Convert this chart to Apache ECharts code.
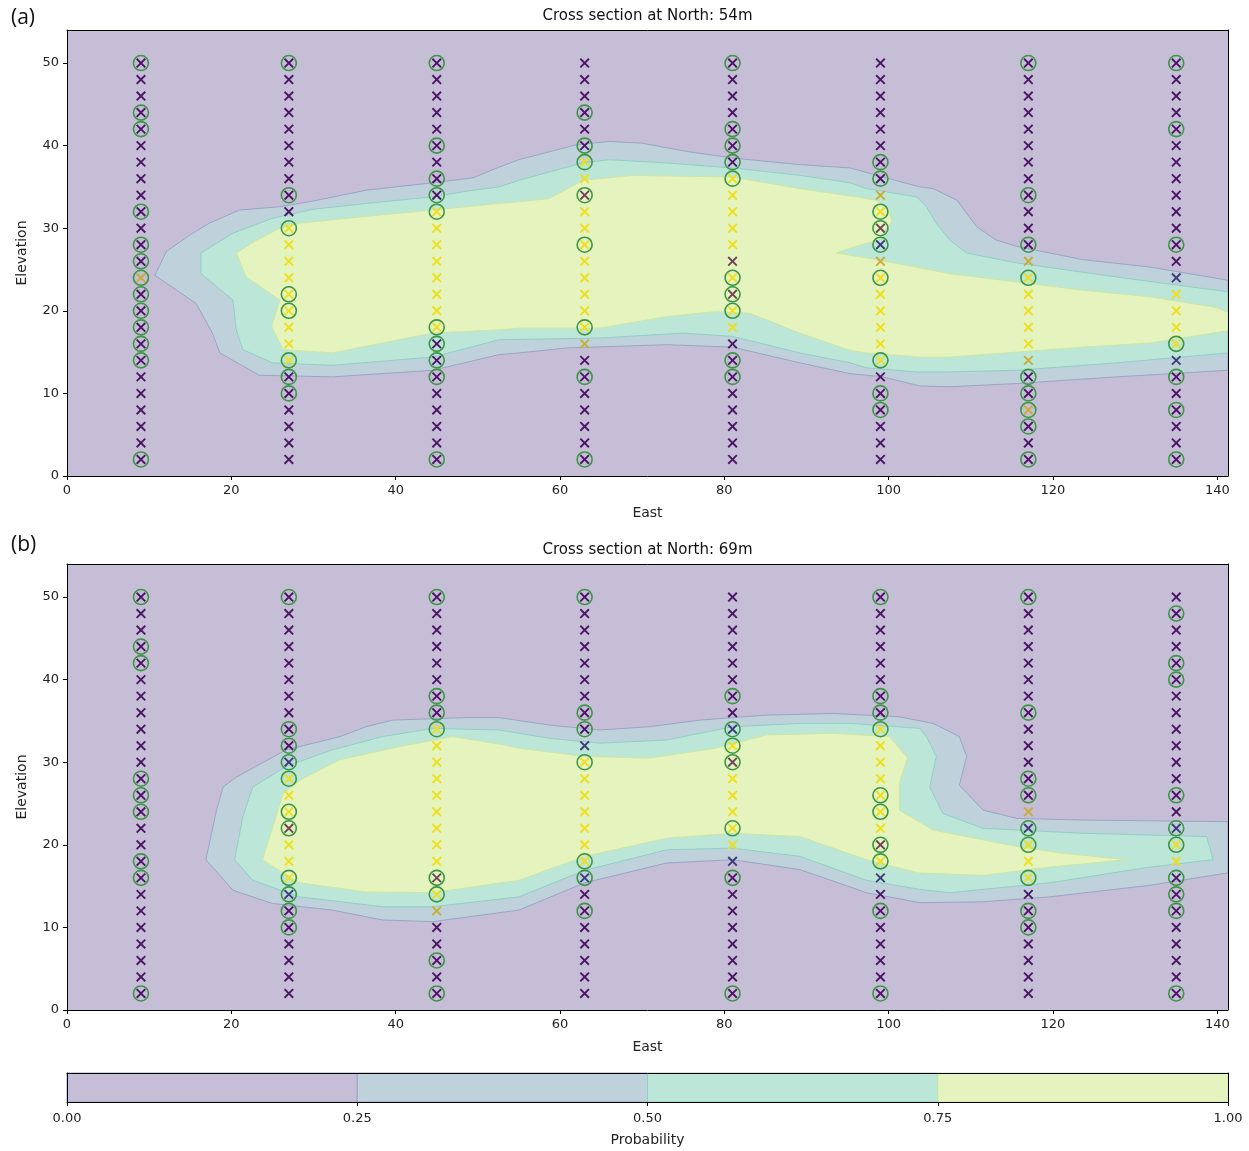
<!DOCTYPE html>
<html><head><meta charset="utf-8">
<script src="https://cdn.jsdelivr.net/npm/echarts@6/dist/echarts.min.js"></script>
<style>html,body{margin:0;padding:0;background:#fff}#c{width:1249px;height:1151px}</style>
</head><body><div id="c"></div>
<script>
// ---------------- DATA ----------------
const EAST_COLS = [9, 27, 45, 63, 81, 99, 117, 135];
const ELEVATIONS = [2,4,6,8,10,12,14,16,18,20,22,24,26,28,30,32,34,36,38,40,42,44,46,48,50];
const X_TICKS = [0, 20, 40, 60, 80, 100, 120, 140];
const Y_TICKS = [0, 10, 20, 30, 40, 50];
const CB_TICKS = [0, 0.25, 0.5, 0.75, 1];
const PROB_LEVELS = [0, 0.25, 0.5, 0.75, 1];
const TITLES = ['Cross section at North: 54m', 'Cross section at North: 69m'];
const PANEL_LABELS = ['(a)', '(b)'];

// marker classes per column, bottom (2 m) to top (50 m): p=purple, y=yellow, m=mixed, d=dark blue, o=olive/orange
const CLASSES_A = [
  'ppppppppppp' + 'o' + 'ppppppppppppp',
  'pppppp' + 'yyyyyyyyy' + 'pppppppppp',
  'pppppppp' + 'yyyyyyyy' + 'ppppppppp',
  'ppppppp' + 'o' + 'yyyyyyyy' + 'm' + 'yy' + 'pppppp',
  'pppppppp' + 'yy' + 'm' + 'y' + 'm' + 'yyyyy' + 'ppppppp',
  'pppppp' + 'yyyyyy' + 'o' + 'd' + 'm' + 'y' + 'o' + 'pppppppp',
  'ppp' + 'o' + 'pp' + 'o' + 'yyyyy' + 'o' + 'pppppppppppp',
  'pppppp' + 'd' + 'yyyy' + 'd' + 'ppppppppppppp'
];
const CLASSES_B = [
  'ppppppppppppppppppppppppp',
  'pppppp' + 'd' + 'yyy' + 'm' + 'yyy' + 'd' + 'pppppppppp',
  'ppppp' + 'o' + 'y' + 'm' + 'yyyyyyyyy' + 'pppppppp',
  'ppppppp' + 'd' + 'yyyyyyy' + 'd' + 'ppppppppp',
  'pppppppp' + 'd' + 'yyyyy' + 'm' + 'y' + 'd' + 'pppppppp',
  'ppppppp' + 'd' + 'y' + 'm' + 'yyyyyyy' + 'pppppppp',
  'ppppppp' + 'yyy' + 'd' + 'o' + 'ppppppppppppp',
  'pppppppp' + 'yy' + 'd' + 'pppppppppppppp'
];
// circled elevations per column
const CIRCLES_A = [
  [50,44,42,32,28,26,24,22,20,18,16,14,2],
  [50,34,30,22,20,14,12,10],
  [50,40,36,34,32,18,16,14,12,2],
  [44,40,38,34,28,18,12,2],
  [50,42,40,38,36,24,22,20,14,12],
  [38,36,32,30,28,24,14,10,8],
  [50,34,28,24,12,10,8,6,2],
  [50,42,28,16,12,8,2]
];
const CIRCLES_B = [
  [50,44,42,28,26,24,18,16,2],
  [50,34,32,30,28,24,22,16,14,12,10],
  [50,38,36,34,16,14,6,2],
  [50,36,34,30,18,16,12],
  [38,34,32,30,22,16,2],
  [50,38,36,34,26,24,20,18,12,2],
  [50,36,28,26,22,20,16,12,10],
  [48,42,40,26,22,20,16,14,12,2]
];

// contour outlines [East, Elevation] for probability >= 0.25, >= 0.5, >= 0.75
const CONTOUR_A_025 = [[10.7,24.3],[12.1,27.2],[15.0,29.2],[17.3,30.6],[21,32.2],[25.9,32.6],[30,33.3],[36.4,34.6],[44.5,35.5],[49.4,36.1],[52.6,37.4],[55,38.3],[62,40.1],[66,40.5],[70,40.3],[75.4,39.3],[81,38.5],[89.2,37.7],[95.3,37.3],[99.3,36.2],[103.8,35.0],[105.4,34.8],[108.3,33.4],[110.7,30.2],[113,28.6],[115.6,27.8],[123.6,26.2],[131.8,25.3],[141.3,23.7],
  [141.3,12.8],[127.7,12.0],[115.6,11.2],[107.4,10.8],[103.8,10.9],[99.3,12.0],[95.3,12.4],[89.2,13.7],[81,15.6],[73,15.9],[60.8,15.5],[55,14.9],[52.6,14.7],[44.5,12.8],[32.3,12.0],[23.4,12.2],[18.6,14.9],[17.7,17.3],[15.7,20.9]];
const CONTOUR_A_050 = [[16.3,27.0],[20.2,29.4],[25,31.2],[30,32.3],[36.4,33.0],[44.5,33.8],[49.4,34.6],[52.6,35.0],[55,35.8],[62.7,37.9],[66,38.3],[73,37.9],[81,37.3],[89.2,36.4],[95.3,35.5],[97.3,34.8],[103.4,33.8],[104.6,32.6],[105.8,30.6],[107.4,28.6],[109.5,27.0],[115.6,25.8],[127.7,24.1],[141.3,22.3],
  [141.3,14.9],[127.7,13.7],[115.6,12.8],[107.4,12.6],[103.4,12.6],[97.3,13.1],[95.3,13.7],[89.2,14.9],[81,16.9],[75,17.3],[64.8,16.7],[52.6,16.5],[44.5,14.4],[32.3,13.4],[25,13.7],[21.4,15.3],[20.6,17.7],[20.2,21.3],[16.3,24.5]];
const CONTOUR_A_075 = [[20.6,27.0],[23,28.5],[25.9,30.0],[28.3,30.6],[36,31.4],[44.5,32.2],[52.6,33.0],[55,33.2],[58.7,33.6],[62.8,35.8],[68.9,36.4],[81,36.2],[89.2,34.8],[95.3,33.9],[98.5,33.4],[100.0,32.3],[100.4,30.8],[99.3,29.4],[98.9,28.6],[96,27.8],[93.6,27.0],[98,26.3],[103.8,25.2],[107.4,24.5],[115.6,23.5],[123.6,22.5],[131.8,21.7],[139.9,20.4],[141.3,19.8],
  [141.3,17.6],[131.8,16.1],[123.6,15.6],[115.6,15.0],[107.4,14.4],[103.8,14.4],[97.3,14.9],[95.3,15.2],[89.2,17.3],[83.1,19.7],[79,19.9],[73,19.3],[64.8,17.9],[55,17.9],[52.6,17.7],[44.5,17.3],[38.4,16.1],[32.3,14.9],[26.3,15.3],[24.9,18.1],[25.9,21.3],[21.8,24.1]];

const CONTOUR_B_025 = [[16.9,18.2],[18.2,24.2],[19.0,27.0],[20.6,28.2],[26.7,31.5],[33.2,33.1],[36.4,34.3],[39.6,35.1],[48.6,35.4],[52.6,35.4],[58.7,34.5],[64.8,33.9],[70.9,34.3],[77,35.1],[85.1,35.7],[93.2,35.9],[101.3,35.5],[105.4,34.7],[108.6,33.1],[109.5,30.7],[108.6,27.2],[111.5,24.2],[115.6,23.2],[123.6,23.0],[141.3,22.8],
  [141.3,16.6],[131.8,15.1],[119.6,13.7],[111.5,13.1],[103.8,13.0],[97.3,14.2],[95.3,14.9],[89.2,17.0],[81,18.2],[73,17.8],[63,15.4],[55,12.1],[44.5,10.7],[38.4,10.9],[32.3,12.1],[25,12.9],[20.2,14.5]];
const CONTOUR_B_050 = [[20.4,18.2],[21.4,23.4],[22.6,27.0],[26.7,29.5],[32.3,31.5],[38.4,33.1],[44.5,34.1],[52.6,33.9],[58.7,32.9],[64.8,32.3],[73,32.7],[81,34.3],[89.2,34.7],[95.3,34.7],[103.8,34.1],[104.6,33.1],[105.8,30.7],[105,27.0],[106.6,23.8],[111.5,22.0],[123.6,21.4],[138.7,21.0],[139.5,18.2],
  [131.8,17.3],[119.6,15.4],[107.4,14.2],[103.8,14.6],[97.3,15.7],[89.2,18.6],[81,19.6],[73,19.4],[63,16.9],[55,13.7],[44.5,12.5],[38.4,12.5],[28.3,13.7],[22.6,15.7]];
const CONTOUR_B_075 = [[23.8,18.2],[26.3,26.2],[28.3,27.8],[33.2,30.3],[40.5,31.9],[46.9,33.1],[52.6,32.2],[55,31.7],[63,30.7],[70.9,30.5],[79,31.7],[85.1,33.3],[93.2,33.5],[100.1,33.1],[102.3,30.5],[101.3,27.5],[101.3,24.2],[105.4,21.8],[115.6,19.8],[121,19.0],[129,18.2],
  [119.6,17.3],[111.5,16.3],[103.6,16.6],[97.3,18.2],[89.2,21.0],[81,21.4],[73,20.8],[63,18.6],[55,15.7],[44.5,14.2],[36.4,14.3],[28.3,15.4],[26.3,16.6]];

// ---------------- STYLE ----------------
const LEVEL_FILLS = ['#c6bdd7', '#bfd2db', '#bce6d8', '#e5f4be'];
const LEVEL_EDGES = ['#c6bdd7', '#9aa5c5', '#8fd0c4', '#cde6a2'];
const CLASS_KEYS = 'pymdo';
const MARK_COLORS = ['#4b1764', '#eedf1c', '#6e4658', '#3b3c78', '#c9ae34'];
const CIRCLE_COLOR = '#3d9645';
const FONT = 'DejaVu Sans';
const XMAX = 141.3, YMAX = 54;

const grids = [
  {left: 67, top: 30, width: 1161, height: 446},
  {left: 67, top: 564, width: 1161, height: 446},
  {left: 67, top: 1073, width: 1161, height: 29}
];

function markerData(classes, circles) {
  const out = [];
  EAST_COLS.forEach((e, j) => {
    ELEVATIONS.forEach((z, i) => {
      out.push([e, z, CLASS_KEYS.indexOf(classes[j][i]), circles[j].indexOf(z) >= 0 ? 1 : 0]);
    });
  });
  return out;
}

function polyRenderer(polys) {
  return function (params, api) {
    const k = api.value(0);
    const pts = polys[k].map(p => api.coord(p));
    return {type: 'polygon', shape: {points: pts},
      style: {fill: LEVEL_FILLS[k + 1], stroke: LEVEL_EDGES[k + 1], lineWidth: 1}};
  };
}

function markerRender(params, api) {
  const p = api.coord([api.value(0), api.value(1)]);
  const col = MARK_COLORS[api.value(2)];
  const h = 4.3;
  const ch = [
    {type: 'line', shape: {x1: p[0]-h, y1: p[1]-h, x2: p[0]+h, y2: p[1]+h}, style: {stroke: col, lineWidth: 1.9}},
    {type: 'line', shape: {x1: p[0]-h, y1: p[1]+h, x2: p[0]+h, y2: p[1]-h}, style: {stroke: col, lineWidth: 1.9}}
  ];
  if (api.value(3)) ch.push({type: 'circle', shape: {cx: p[0], cy: p[1], r: 7.5},
    style: {fill: 'none', stroke: CIRCLE_COLOR, lineWidth: 1.6}});
  return {type: 'group', children: ch};
}

function cbRender(params, api) {
  const k = api.value(0);
  const a = api.coord([PROB_LEVELS[k], 0]);
  const b = api.coord([PROB_LEVELS[k + 1], 1]);
  return {type: 'rect', shape: {x: a[0], y: b[1], width: b[0] - a[0], height: a[1] - b[1]},
    style: {fill: LEVEL_FILLS[k], stroke: LEVEL_EDGES[Math.max(k,1)], lineWidth: 1}};
}

const labelStyle = {color: '#222', fontSize: 13, fontFamily: FONT};
const lineOnly = {lineStyle: {color: '#000', width: 1}};

function mainX(gi) {
  return [{
    gridIndex: gi, type: 'value', min: 0, max: XMAX, interval: 20, position: 'bottom', z: 10,
    axisLine: {show: true, onZero: false, ...lineOnly},
    axisTick: {show: true, length: 4, customValues: X_TICKS, lineStyle: {color: '#000'}},
    axisLabel: {customValues: X_TICKS, margin: 8, ...labelStyle},
    splitLine: {show: false},
    name: 'East', nameLocation: 'middle', nameGap: 30, nameTextStyle: {...labelStyle, fontSize: 14}
  }, {
    gridIndex: gi, type: 'value', min: 0, max: XMAX, position: 'top', z: 10,
    axisLine: {show: true, onZero: false, ...lineOnly}, axisTick: {show: false}, axisLabel: {show: false}, splitLine: {show: false}
  }];
}
function mainY(gi) {
  return [{
    gridIndex: gi, type: 'value', min: 0, max: YMAX, interval: 10, position: 'left', z: 10,
    axisLine: {show: true, onZero: false, ...lineOnly},
    axisTick: {show: true, length: 4, customValues: Y_TICKS, lineStyle: {color: '#000'}},
    axisLabel: {customValues: Y_TICKS, margin: 8, ...labelStyle},
    splitLine: {show: false},
    name: 'Elevation', nameLocation: 'middle', nameGap: 38, nameTextStyle: {...labelStyle, fontSize: 14}
  }, {
    gridIndex: gi, type: 'value', min: 0, max: YMAX, position: 'right', z: 10,
    axisLine: {show: true, onZero: false, ...lineOnly}, axisTick: {show: false}, axisLabel: {show: false}, splitLine: {show: false}
  }];
}

const xAxes = [...mainX(0), ...mainX(1),
  {gridIndex: 2, type: 'value', min: 0, max: 1, interval: 0.25, position: 'bottom', z: 10,
    axisLine: {show: true, onZero: false, ...lineOnly},
    axisTick: {show: true, length: 4, customValues: CB_TICKS, lineStyle: {color: '#000'}},
    axisLabel: {customValues: CB_TICKS, margin: 10, formatter: v => v.toFixed(2), ...labelStyle},
    splitLine: {show: false},
    name: 'Probability', nameLocation: 'middle', nameGap: 31, nameTextStyle: {...labelStyle, fontSize: 14}},
  {gridIndex: 2, type: 'value', min: 0, max: 1, position: 'top', z: 10,
    axisLine: {show: true, onZero: false, ...lineOnly}, axisTick: {show: false}, axisLabel: {show: false}, splitLine: {show: false}}
];
const yAxes = [...mainY(0), ...mainY(1),
  {gridIndex: 2, type: 'value', min: 0, max: 1, position: 'left', z: 10,
    axisLine: {show: true, onZero: false, ...lineOnly}, axisTick: {show: false}, axisLabel: {show: false}, splitLine: {show: false}},
  {gridIndex: 2, type: 'value', min: 0, max: 1, position: 'right', z: 10,
    axisLine: {show: true, onZero: false, ...lineOnly}, axisTick: {show: false}, axisLabel: {show: false}, splitLine: {show: false}}
];

function panelSeries(gi, polys, classes, circles) {
  const xi = gi * 2, yi = gi * 2;
  return [{
    type: 'custom', xAxisIndex: xi, yAxisIndex: yi, clip: true, silent: true,
    renderItem: polyRenderer(polys), data: [[0, 0], [1, 0], [2, 0]], encode: {x: 0, y: 1}, z: 2
  }, {
    type: 'custom', xAxisIndex: xi, yAxisIndex: yi, silent: true,
    renderItem: markerRender, data: markerData(classes, circles), encode: {x: 0, y: 1}, z: 3
  }];
}

const chart = echarts.init(document.getElementById('c'), null, {renderer: 'canvas'});
chart.setOption({
  animation: false,
  backgroundColor: '#fff',
  grid: grids.map((g, i) => ({...g, show: true, backgroundColor: LEVEL_FILLS[0], borderWidth: 0, containLabel: false})),
  xAxis: xAxes,
  yAxis: yAxes,
  graphic: [
    {type: 'text', x: 647.5, y: 16, style: {text: TITLES[0], textAlign: 'center', textVerticalAlign: 'middle', font: '15px "DejaVu Sans"', fill: '#111'}},
    {type: 'text', x: 647.5, y: 550, style: {text: TITLES[1], textAlign: 'center', textVerticalAlign: 'middle', font: '15px "DejaVu Sans"', fill: '#111'}},
    {type: 'text', x: 11, y: 18, style: {text: PANEL_LABELS[0], textAlign: 'left', textVerticalAlign: 'middle', font: '21px "Open Sans"', fill: '#111'}},
    {type: 'text', x: 11, y: 545, style: {text: PANEL_LABELS[1], textAlign: 'left', textVerticalAlign: 'middle', font: '21px "Open Sans"', fill: '#111'}}
  ],
  series: [
    ...panelSeries(0, [CONTOUR_A_025, CONTOUR_A_050, CONTOUR_A_075], CLASSES_A, CIRCLES_A),
    ...panelSeries(1, [CONTOUR_B_025, CONTOUR_B_050, CONTOUR_B_075], CLASSES_B, CIRCLES_B),
    {type: 'custom', xAxisIndex: 4, yAxisIndex: 4, silent: true, renderItem: cbRender,
      data: [[0, 0], [1, 0], [2, 0], [3, 0]], encode: {x: 0, y: 1}, z: 2}
  ]
});
</script>
</body></html>
